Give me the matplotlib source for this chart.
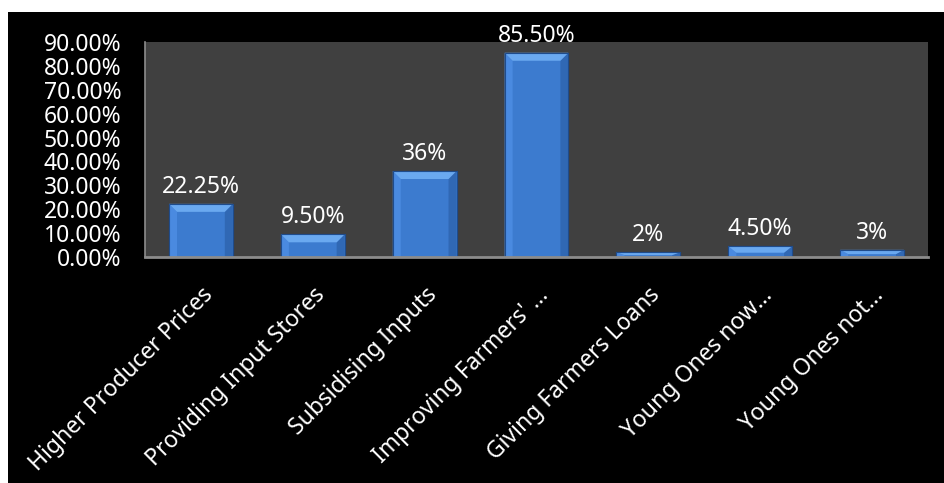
import matplotlib
matplotlib.use("Agg")
import matplotlib.pyplot as plt
from matplotlib.patches import Polygon, Rectangle
from matplotlib.ticker import FuncFormatter

categories = [
    "Higher Producer Prices",
    "Providing Input Stores",
    "Subsidising Inputs",
    "Improving Farmers' \u2026",
    "Giving Farmers Loans",
    "Young Ones now\u2026",
    "Young Ones not\u2026",
]
values = [0.2225, 0.095, 0.36, 0.855, 0.02, 0.045, 0.03]
value_labels = ["22.25%", "9.50%", "36%", "85.50%", "2%", "4.50%", "3%"]
y_ticks = [0.0, 0.1, 0.2, 0.3, 0.4, 0.5, 0.6, 0.7, 0.8, 0.9]

plt.rcParams["font.family"] = ["Noto Sans", "DejaVu Sans"]
FS = 16.5
W, H, DPI = 945, 483, 100

fig = plt.figure(figsize=(W / DPI, H / DPI), dpi=DPI, facecolor="white")
# black chart area (white strip along top and left edges)
fig.patches.append(Rectangle((8 / W, 0), 1 - 8 / W, 1 - 12 / H,
                             transform=fig.transFigure, facecolor="black",
                             edgecolor="none", zorder=-10))

ax = fig.add_axes([145 / W, 1 - 257 / H, (928 - 145) / W, (257 - 42) / H])
ax.set_facecolor("#404040")

x = list(range(len(categories)))
bar_w = 0.57
face = "#3c7bcf"
bars = ax.bar(x, values, width=bar_w, color=face, edgecolor="#1f4c8c",
              linewidth=0.8, zorder=2)

ax.set_xlim(-0.5, len(categories) - 0.5)
ax.set_ylim(0, 0.9)

# bevel sizes in pixels converted to data units
ax_w_px = 928 - 145
ax_h_px = 257 - 42
bx = 8 * (len(categories) / ax_w_px)
by = 8 * (0.9 / ax_h_px)

for rect in bars:
    x0 = rect.get_x()
    x1 = x0 + rect.get_width()
    y0 = rect.get_y()
    y1 = y0 + rect.get_height()
    b_y = min(by, (y1 - y0) * 0.6)
    top = Polygon([(x0, y1), (x1, y1), (x1 - bx, y1 - b_y), (x0 + bx, y1 - b_y)],
                  closed=True, facecolor="#6aa9f0", edgecolor="none", zorder=3)
    left = Polygon([(x0, y0), (x0, y1), (x0 + bx, y1 - b_y), (x0 + bx, y0)],
                   closed=True, facecolor="#4a8ae0", edgecolor="none", zorder=3)
    right = Polygon([(x1, y0), (x1, y1), (x1 - bx, y1 - b_y), (x1 - bx, y0)],
                    closed=True, facecolor="#3068b4", edgecolor="none", zorder=3)
    for p in (left, right, top):
        ax.add_patch(p)
    ax.add_patch(Rectangle((x0, y0), x1 - x0, y1 - y0, facecolor="none",
                           edgecolor="#1f4c8c", linewidth=0.8, zorder=4))

for xi, v, lab in zip(x, values, value_labels):
    ax.annotate(lab, (xi, v), xytext=(0, 8), textcoords="offset points",
                ha="center", va="baseline", color="white", fontsize=FS,
                annotation_clip=False, zorder=5)

ax.set_yticks(y_ticks)
ax.yaxis.set_major_formatter(FuncFormatter(lambda v, _: f"{v * 100:.2f}%"))
ax.set_xticks(x)
ax.set_xticklabels(categories, rotation=45, ha="right", va="top",
                   rotation_mode="anchor")
ax.tick_params(axis="y", length=0, pad=17, labelsize=FS, colors="white")
ax.tick_params(axis="x", length=0, pad=19, labelsize=FS, colors="white")

for side in ("top", "right"):
    ax.spines[side].set_visible(False)
ax.spines["left"].set_color("#8c8c8c")
ax.spines["left"].set_linewidth(1.2)
ax.spines["bottom"].set_color("#8c8c8c")
ax.spines["bottom"].set_linewidth(2)
ax.spines["bottom"].set_zorder(6)

fig.savefig("out.png", dpi=DPI, facecolor=fig.get_facecolor())
